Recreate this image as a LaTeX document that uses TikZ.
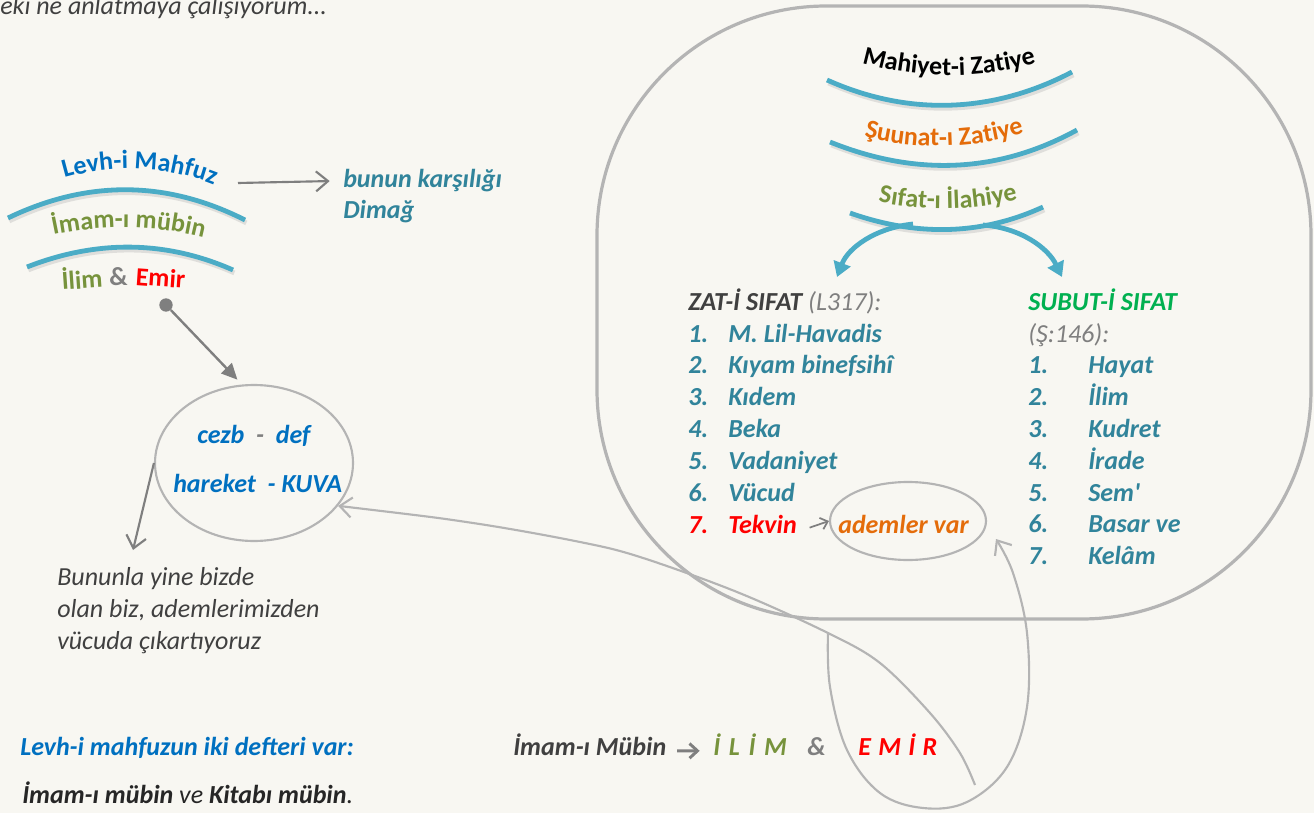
\documentclass[tikz,border=0pt]{standalone}
\usepackage{fontspec}
\setmainfont{Carlito}
\newfontfamily\cplain{Carlito}
\usetikzlibrary{arrows.meta,shapes.geometric,decorations.text}
\definecolor{bg}{HTML}{F8F7F2}
\definecolor{arcblue}{HTML}{4BACC6}
\definecolor{cblue}{HTML}{0070C0}
\definecolor{cgreen}{HTML}{77933C}
\definecolor{cred}{HTML}{FF0000}
\definecolor{corange}{HTML}{E46C0A}
\definecolor{cteal}{HTML}{31849B}
\definecolor{cdark}{HTML}{404040}
\definecolor{cdarker}{HTML}{262626}
\definecolor{cgray}{HTML}{7F7F7F}
\definecolor{lgray}{HTML}{B4B4B4}
\definecolor{sgreen}{HTML}{00B050}
\newcommand\fsL{\fontsize{19.5pt}{24pt}\selectfont}
\newcommand\fsB{\fontsize{19.5pt}{24pt}\selectfont}
\newcommand\fsC{\fontsize{19.5pt}{24pt}\selectfont}
\begin{document}
\begin{tikzpicture}[x=0.75pt,y=-0.75pt,
  txt/.style={inner sep=0pt, anchor=base west},
  lst/.style={txt, font=\fsL\bfseries\itshape, text=cteal},
  arcline/.style={draw=arcblue, line width=3.6pt},
  arcshadow/.style={draw=black!30, line width=3.6pt, opacity=0.35, transform canvas={shift={(1pt,-2.2pt)}}},
  bluearrow/.style={draw=arcblue, line width=3.6pt, -{Triangle[length=11pt,width=13pt]}},
  greyarrow/.style={draw=cgray, line width=1.6pt, -{Straight Barb[length=9pt,width=15pt,line width=1.6pt]}},
  loopline/.style={draw=lgray, line width=1.6pt},
  ell/.style={ellipse, draw=lgray, line width=1.6pt, inner sep=0pt}
]
\useasboundingbox[fill=bg] (0,0) rectangle (1314,813);

% top-left cut text
\node[txt, font=\fsL\itshape, text=cdark] (top) at (0,15) {eki ne anlatmaya çalışıyorum...};

% ---------- left stack ----------
\draw[arcshadow] (8,218) .. controls (87,180) and (166,180) .. (245,220);
\draw[arcline]   (8,218) .. controls (87,180) and (166,180) .. (245,220);
\draw[arcshadow] (27,267) .. controls (96,240) and (165,240) .. (233,270);
\draw[arcline]   (27,267) .. controls (96,240) and (165,240) .. (233,270);

\path[decorate, decoration={text along path, text align=center,
  text={|\fsC\bfseries\color{cblue}|Levh-i Mahfuz}}]
  (52,182) .. controls (106,163) and (168,163) .. (226,190);
\path[decorate, decoration={text along path, text align=center,
  text={|\fsC\bfseries\color{cgreen}|İmam-ı mübin}}]
  (44,237) .. controls (98,224) and (157,224) .. (213,240);

\node[txt, font=\fsC\bfseries, text=cgreen, rotate=4] (ilim) at (62,290) {İlim};
\node[txt, font=\fsC\bfseries, text=cgray] (amp) at (109,286) {\&};
\node[txt, font=\fsC\bfseries, text=cred, rotate=-4] (emir) at (135,285) {Emir};

\coordinate (levhE) at (238,183);
\node[txt, font=\fsL\bfseries\itshape, text=cteal] (karsi1) at (343,188) {bunun karşılığı};
\node[txt, font=\fsL\bfseries\itshape, text=cteal] (karsi2) at (343,219) {Dimağ};
\draw[greyarrow] (levhE) -- ([xshift=-10pt]karsi1.west);

% cezb ellipse
\node[ell, minimum width=148.5pt, minimum height=117pt] (cezb) at (254,463) {};
\node[txt, font=\fsL\bfseries\itshape, text=cblue] (cezb1) at (197,443) {cezb\ \ \textcolor{cgray}{-}\ \ def};
\node[txt, font=\fsL\bfseries\itshape, text=cblue] (cezb2) at (173,492) {hareket\ \ - KUVA};

\node[circle, fill=cgray, minimum size=10pt, inner sep=0pt] (dot) at (166,305) {};
\draw[draw=cgray, line width=1.8pt, -{Triangle[length=12pt,width=11pt]}] (dot) -- ([yshift=4pt]cezb.102);

\coordinate (bunTip) at (133,550);
\draw[greyarrow] (cezb.west) -- (bunTip);
\node[txt, font=\fsL\itshape, text=cdark] (bun1) at (57,585) {Bununla yine bizde};
\node[txt, font=\fsL\itshape, text=cdark] (bun2) at (57,617) {olan biz, ademlerimizden};
\node[txt, font=\fsL\itshape, text=cdark] (bun3) at (57,649) {vücuda çıkartıyoruz};

% ---------- right box ----------
\draw[draw=lgray, line width=2.4pt, rounded corners=172pt] (597,6) rectangle (1311,619);

\draw[arcshadow] (827,80) .. controls (905,115) and (990,115) .. (1072,72);
\draw[arcline]   (827,80) .. controls (905,115) and (990,115) .. (1072,72);
\draw[arcshadow] (830,142) .. controls (912,175) and (995,175) .. (1077,130);
\draw[arcline]   (830,142) .. controls (912,175) and (995,175) .. (1077,130);
\draw[arcshadow] (850,213) .. controls (915,236) and (980,236) .. (1043,207);
\draw[arcline]   (850,213) .. controls (915,236) and (980,236) .. (1043,207);

\path[decorate, decoration={text along path, text align=center,
  text={|\fsC\bfseries\color{black}|Mahiyet-i Zatiye}}]
  (846,58) .. controls (912,81) and (988,81) .. (1052,58);
\path[decorate, decoration={text along path, text align=center,
  text={|\fsC\bfseries\color{corange}|Şuunat-ı Zatiye}}]
  (852,133) .. controls (908,151) and (978,151) .. (1036,129);
\path[decorate, decoration={text along path, text align=center,
  text={|\fsC\bfseries\color{cgreen}|Sıfat-ı İlahiye}}]
  (866,199) .. controls (918,212) and (978,212) .. (1030,196);

\coordinate (sfL) at (913,224);
\coordinate (sfR) at (983,225);
\coordinate (zatTip) at (837,277);
\coordinate (subTip) at (1062,277);
\draw[bluearrow] (sfL) .. controls (875,228) and (848,248) .. (zatTip);
\draw[bluearrow] (sfR) .. controls (1021,228) and (1048,248) .. (subTip);

% left list
\node[txt, font=\fsL\itshape] (zh) at (688,310) {\textcolor{cdark}{\bfseries ZAT-İ SIFAT} \textcolor{cgray}{(L317):}};
\node[lst] (z1) at (688,342) {\makebox[30pt][l]{1.}M. Lil-Havadis};
\node[lst] (z2) at (688,373.8) {\makebox[30pt][l]{2.}Kıyam binefsihî};
\node[lst] (z3) at (688,405.6) {\makebox[30pt][l]{3.}Kıdem};
\node[lst] (z4) at (688,437.4) {\makebox[30pt][l]{4.}Beka};
\node[lst] (z5) at (688,469.2) {\makebox[30pt][l]{5.}Vadaniyet};
\node[lst] (z6) at (688,501) {\makebox[30pt][l]{6.}Vücud};
\node[lst, text=cred] (z7) at (688,533) {\makebox[30pt][l]{7.}Tekvin};

\node[ell, minimum width=117pt, minimum height=58.5pt] (adem) at (908,521) {};
\node[txt, font=\fsL\bfseries\itshape, text=corange] (ademt) at (838,533) {ademler var};
\draw[draw=cgray, line width=1.3pt, shorten <=10pt, -{Straight Barb[length=5pt,width=9pt,line width=1.3pt]}] ([yshift=-6pt]z7.east) -- ([yshift=0pt]adem.west);

% right list
\node[txt, font=\fsL\bfseries\itshape, text=sgreen] (sh) at (1028,310) {SUBUT-İ SIFAT};
\node[txt, font=\fsL\itshape, text=cgray] (sh2) at (1028,342) {(Ş:146):};
\node[lst] (s1) at (1028,373.8) {\makebox[45pt][l]{1.}Hayat};
\node[lst] (s2) at (1028,405.6) {\makebox[45pt][l]{2.}İlim};
\node[lst] (s3) at (1028,437.4) {\makebox[45pt][l]{3.}Kudret};
\node[lst] (s4) at (1028,469.2) {\makebox[45pt][l]{4.}İrade};
\node[lst] (s5) at (1028,501) {\makebox[45pt][l]{5.}Sem{\cplain'}};
\node[lst] (s6) at (1028,532.8) {\makebox[45pt][l]{6.}Basar ve};
\node[lst] (s7) at (1028,564.6) {\makebox[45pt][l]{7.}Kelâm};

% ---------- connectors ----------
\coordinate (kuvaTip) at (cezb.-27);
\coordinate (loopS) at (828,633);
\coordinate (kuvaEnd) at (975,785);
\coordinate (ademTip) at (996,539);
\draw[loopline, {Straight Barb[length=9pt,width=15pt,line width=1.6pt]}-]
  plot[smooth, tension=0.55] coordinates {(kuvaTip) (473,523) (580,542) (640,557) (737,592) (loopS) (880,663) (930,713) (960,753) (kuvaEnd)};
\draw[loopline, -{Straight Barb[length=9pt,width=15pt,line width=1.6pt]}]
  plot[smooth, tension=0.6] coordinates {(loopS) (830,687) (847,750) (880,793) (923,808) (967,802) (1007,767) (1027,707) (1027,633) (1013,573) (ademTip)};

% ---------- bottom texts ----------
\node[txt, font=\fsB\bfseries\itshape, text=cblue] (lm) at (20,755) {Levh-i mahfuzun iki defteri var:};
\node[txt, font=\fsB\itshape, text=cdarker] (lm2) at (22,803) {\textbf{İmam-ı mübin} ve \textbf{Kitabı mübin}.};

\node[txt, font=\fsB\bfseries\itshape, text=cdark] (imM) at (513,755) {İmam-ı Mübin};
\node[txt, font=\fsB\bfseries\itshape, text=cgreen] (ilimL) at (713,755) {İ\hspace{6.5pt}L\hspace{6.5pt}İ\hspace{6.5pt}M};
\node[txt, font=\fsB\bfseries\itshape, text=cgray] (amp2) at (807,755) {\&};
\node[txt, font=\fsB\bfseries\itshape, text=cred] (emirL) at (858,755) {E\hspace{5.5pt}M\hspace{5.5pt}İ\hspace{5.5pt}R};
\draw[draw=cgray, line width=2.2pt, shorten <=8pt, shorten >=10pt, -{Straight Barb[length=6pt,width=11pt,line width=2.2pt]}] ([yshift=-5pt]imM.east) -- ([yshift=-5pt]ilimL.west);

\end{tikzpicture}
\end{document}
